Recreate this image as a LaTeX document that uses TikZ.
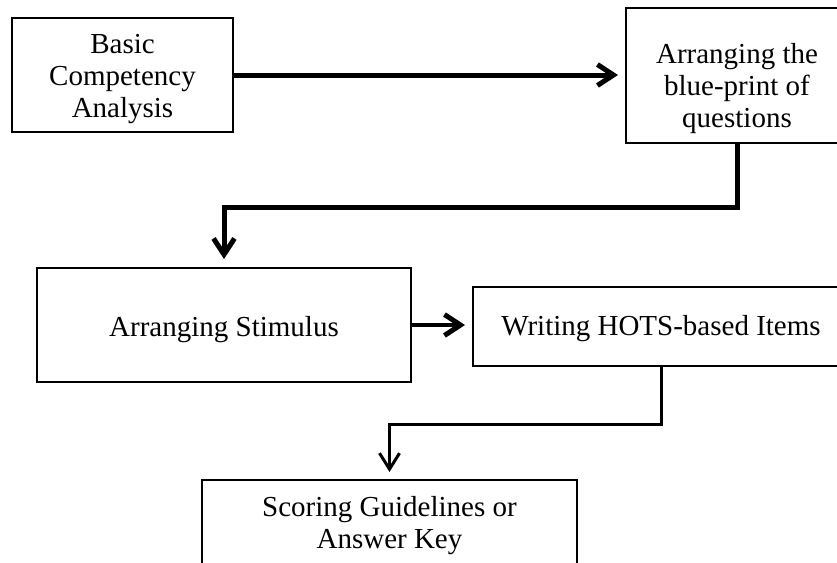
\documentclass[tikz,border=0pt]{standalone}
\usepackage{fontspec}
\setmainfont{Liberation Serif}
\usetikzlibrary{arrows, arrows.meta}
\usetikzlibrary{calc}

% text set lower in its box, box size kept
\newcommand{\droptext}[2]{\raisebox{-#1}[\height][\depth]{\begin{tabular}{@{}c@{}}#2\end{tabular}}}

\begin{document}
\begin{tikzpicture}[x=1pt, y=-1pt,
    stage/.style={draw, line width=2pt, inner sep=0pt, font=\fontsize{29}{32}\selectfont},
    flow/.style={line width=5pt, -{Straight Barb[length=16pt, width=21pt, line width=5pt]}}]
      \useasboundingbox (0, 0) rectangle (837, 562);

      \node[stage, minimum width=221pt, minimum height=114pt] (1) at (122.5, 75) {\droptext{4pt}{Basic\\Competency\\Analysis}};
      \node[stage, minimum width=222pt, minimum height=135pt] (2) at (737, 75.5) {\droptext{14pt}{Arranging the\\blue-print of\\questions}};
      \node[stage, minimum width=374pt, minimum height=114pt] (3) at (224, 325) {\droptext{5pt}{Arranging Stimulus}};
      \node[stage, minimum width=376pt, minimum height=79pt] (4) at (661, 326.5) {\droptext{3pt}{Writing HOTS-based Items}};
      \node[stage, minimum width=375pt, minimum height=86pt] (5) at (389.5, 523) {\droptext{3pt}{Scoring Guidelines or\\Answer Key}};

      \draw[flow, shorten >=7pt] (1.east) -- (1.east -| 2.west);
      \draw[flow, shorten >=8pt] (2.south) -- ++(0, 63) -| (3.north);
      \draw[line width=3.5pt, -{Straight Barb[length=16pt, width=21pt, line width=5pt]}, shorten >=7pt] (3.east) -- (3.east -| 4.west);
      \draw[line width=3pt, -{Straight Barb[length=16pt, width=20pt, line width=3pt]}, shorten >=7pt] (4.south) -- ++(0, 57) -| (5.north);
    \end{tikzpicture}
\end{document}
